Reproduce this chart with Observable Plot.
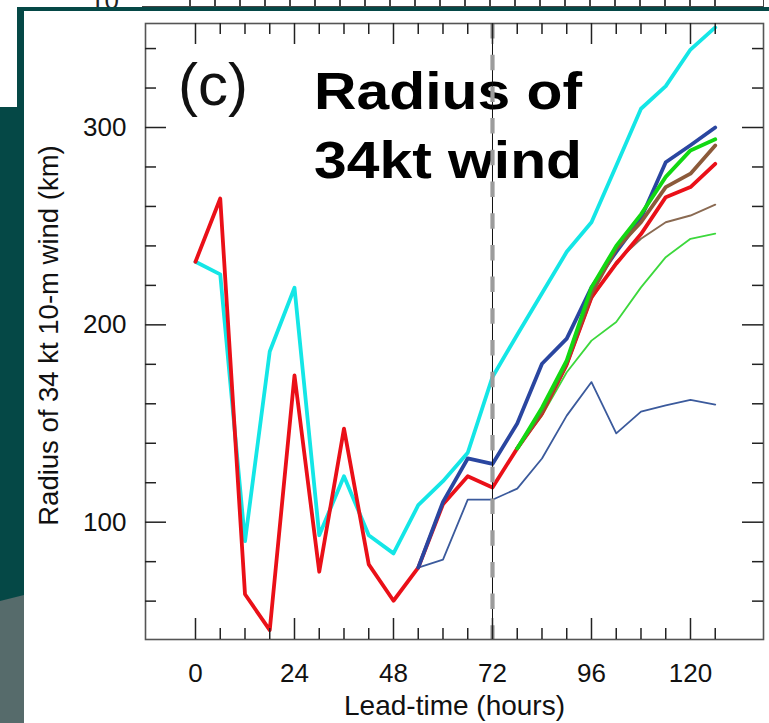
<!DOCTYPE html>
<html>
<head>
<meta charset="utf-8">
<script src="https://cdn.jsdelivr.net/npm/d3@7"></script>
<script src="https://cdn.jsdelivr.net/npm/@observablehq/plot@0.6"></script>
<style>
  html, body { margin: 0; padding: 0; background: #fff; }
  #page { position: relative; width: 769px; height: 723px; overflow: hidden; background: #fff;
          font-family: "Liberation Sans", Arial, sans-serif; }
  #ann { position: absolute; left: 0; top: 0; z-index: 0; pointer-events: none; }
  #chart { position: absolute; left: 0; top: 0; z-index: 1; }
  .deco { position: absolute; z-index: 2; }
</style>
</head>
<body>
<div id="page">
  <svg id="ann" width="769" height="723"></svg>
  <div id="chart"></div>
  <!-- fragment of the slide behind: another chart's bottom frame -->
  <div class="deco" style="left:142px;top:0;width:621px;height:6px;border-bottom:1.5px solid #444;border-right:1.5px solid #444;"></div>
  <div class="deco" style="left:189px;top:0;width:527px;height:6px;background:repeating-linear-gradient(to right,#444 0 1.5px,transparent 1.5px 25px);"></div>
  <!-- slide teal frame -->
  <div class="deco" style="left:17px;top:7px;width:752px;height:4px;background:#054846;"></div>
  <div class="deco" style="left:17px;top:7px;width:7px;height:101px;background:#054846;"></div>
  <div class="deco" style="left:0;top:107px;width:24px;height:494px;background:#054846;"></div>
  <div class="deco" style="left:0;top:594px;width:24px;height:129px;background:#566b6b;clip-path:polygon(0 7px,100% 1px,100% 100%,0 100%);"></div>
</div>
<script>
// ---- data ----
const leadTimes = [0, 6, 12, 18, 24, 30, 36, 42, 48, 54, 60, 66, 72, 78, 84, 90, 96, 102, 108, 114, 120, 126];
const xMajorTicks = [0, 24, 48, 72, 96, 120];
const xMinorTicks = [6, 12, 18, 30, 36, 42, 54, 60, 66, 78, 84, 90, 102, 108, 114, 126];
const yMajorTicks = [100, 200, 300];
const yMinorTicks = [60, 80, 120, 140, 160, 180, 220, 240, 260, 280, 320, 340];
const analysisTime = [72];

const redThick   = [232, 264, 63.5, 45.3, 174.4, 74.9, 147.4, 78.6, 60.2, 77, 109.1, 123.3, 117.6, 137.4, 155, 180, 214, 231, 246, 264.7, 269.8, 281.6];
const cyanThick  = [232, 225.6, 90.4, 186.5, 218.8, 93.4, 123.3, 93.4, 84.2, 108.6, 120.8, 135.2, 173.6, 195, 216, 237, 252, 280.6, 309.5, 321, 339.5, 350.7];
const blueThick  = [null, null, null, null, null, null, null, null, null, 77, 110.3, 132.3, 129.5, 150, 180.3, 193, 219, 237, 254, 282.4, 291, 300];
const navyThin   = [null, null, null, null, null, null, null, null, null, 77, 81, 111.4, 111.4, 117, 132.3, 154, 171, 145, 156, 159.2, 162, 159.6];
const greenThick = [null, null, null, null, null, null, null, null, null, null, null, null, null, 137.4, 158, 182, 219, 240, 256, 275, 288.4, 294];
const greenThin  = [null, null, null, null, null, null, null, null, null, null, null, null, null, 137.4, 154, 176, 192, 201.4, 219, 234.3, 243.6, 246.2];
const brownThick = [null, null, null, null, null, null, null, null, null, null, null, null, null, 137.4, 156, 181, 216, 238.6, 252, 269.8, 276.6, 290.9];
const brownThin  = [null, null, null, null, null, null, null, null, null, null, null, null, null, 137.4, 155, 179, 213, 232, 243.6, 252, 255.4, 260.9];

const xLabel = "Lead-time (hours)";
const yLabel = "Radius of 34 kt 10-m wind (km)";
const panelTag = "(c)";
const titleLines = ["Radius of", "34kt wind"];
const behindTick = "10";

// ---- layout ----
const W = 769, H = 723, mL = 145, mR = 6, mT = 23, mB = 84;
const fw = W - mL - mR, fh = H - mT - mB;

const series = [
  {v: navyThin,   stroke: "#3b5a9c", w: 1.8},
  {v: greenThin,  stroke: "#3cd83c", w: 1.8},
  {v: brownThin,  stroke: "#8a6a52", w: 1.9},
  {v: cyanThick,  stroke: "#14e6e6", w: 3.8},
  {v: redThick,   stroke: "#ea1018", w: 3.8},
  {v: blueThick,  stroke: "#2a46a0", w: 3.8},
  {v: brownThick, stroke: "#8c5a3a", w: 3.8},
  {v: greenThick, stroke: "#12d812", w: 3.8}
];

const tickStroke = "#222";
const chart = Plot.plot({
  width: W, height: H,
  marginLeft: mL, marginRight: mR, marginTop: mT, marginBottom: mB,
  style: {background: "transparent", fontFamily: '"Liberation Sans", Arial, sans-serif', fontSize: "26px", color: "#111"},
  x: {domain: [-12.12, 137.7]},
  y: {domain: [40.56, 352.7]},
  marks: [
    ...series.map(s => Plot.line(leadTimes, {x: leadTimes, y: s.v, stroke: s.stroke, strokeWidth: s.w, strokeLinejoin: "round"})),
    Plot.ruleX(analysisTime, {x: d => d, stroke: "#111", strokeWidth: 1}),
    Plot.ruleX(analysisTime, {x: d => d, stroke: "#9c9c9c", strokeWidth: 4.2, strokeDasharray: "15.5,16.2"}),
    Plot.frame({stroke: "#555", strokeWidth: 1.6}),
    Plot.tickX(xMajorTicks, {x: d => d, stroke: tickStroke, strokeWidth: 1.5, insetTop: fh - 21}),
    Plot.tickX(xMajorTicks, {x: d => d, stroke: tickStroke, strokeWidth: 1.5, insetBottom: fh - 21}),
    Plot.tickX(xMinorTicks, {x: d => d, stroke: tickStroke, strokeWidth: 1.5, insetTop: fh - 11}),
    Plot.tickX(xMinorTicks, {x: d => d, stroke: tickStroke, strokeWidth: 1.5, insetBottom: fh - 11}),
    Plot.tickY(yMajorTicks, {y: d => d, stroke: tickStroke, strokeWidth: 1.5, insetRight: fw - 21}),
    Plot.tickY(yMajorTicks, {y: d => d, stroke: tickStroke, strokeWidth: 1.5, insetLeft: fw - 21}),
    Plot.tickY(yMinorTicks, {y: d => d, stroke: tickStroke, strokeWidth: 1.5, insetRight: fw - 11}),
    Plot.tickY(yMinorTicks, {y: d => d, stroke: tickStroke, strokeWidth: 1.5, insetLeft: fw - 11}),
    Plot.axisX({ticks: xMajorTicks, tickSize: 0, tickPadding: 24, label: null, tickFormat: d => String(d)}),
    Plot.axisY({ticks: yMajorTicks, tickSize: 0, tickPadding: 19, label: null, tickFormat: d => String(d)}),
    Plot.text([xLabel], {text: d => d, frameAnchor: "bottom", textAnchor: "middle", lineAnchor: "middle", dy: 67, fontSize: 28, fill: "#111"}),
    Plot.text([yLabel], {text: d => d, frameAnchor: "left", textAnchor: "middle", lineAnchor: "middle", rotate: -90, dx: -96.5, dy: 4, fontSize: 27.5, fill: "#111"})
  ]
});
document.getElementById("chart").appendChild(chart);

// ---- annotations (real text), drawn beneath the chart lines ----
const ann = d3.select("#ann").attr("font-family", '"Liberation Sans", Arial, sans-serif');
ann.append("text").attr("x", 90).attr("y", 9).attr("font-size", 26).attr("fill", "#222").text(behindTick);
ann.append("text").attr("x", 178).attr("y", 105).attr("font-size", 60).attr("fill", "#111").text(panelTag);
const titleBaselines = [108.5, 177.5];
titleLines.forEach((t, i) => {
  ann.append("text")
    .attr("x", 314).attr("y", titleBaselines[i])
    .attr("font-size", 52).attr("font-weight", "bold").attr("fill", "#000")
    .attr("textLength", 268).attr("lengthAdjust", "spacingAndGlyphs")
    .text(t);
});
</script>
</body>
</html>
